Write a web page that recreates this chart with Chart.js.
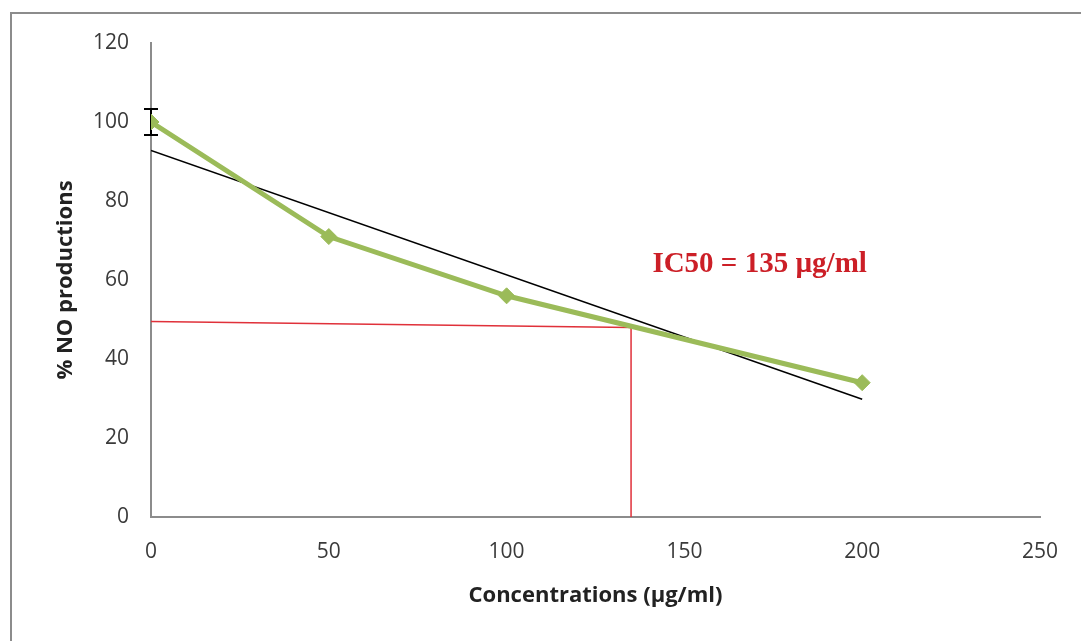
<!DOCTYPE html>
<html>
<head>
<meta charset="utf-8">
<title>NO production</title>
<script src="https://cdn.jsdelivr.net/npm/chart.js@4/dist/chart.umd.min.js"></script>
<style>
  html, body { margin: 0; padding: 0; background: #fff; }
  #wrap { position: relative; width: 1081px; height: 641px; overflow: hidden; }
  #frame { position: absolute; left: 10px; top: 12px; width: 1200px; height: 800px;
           border-left: 2px solid #8c8c8c; border-top: 2px solid #8c8c8c; }
  #myChart { position: absolute; left: 0; top: 0; }
</style>
</head>
<body>
<div id="wrap">
  <div id="frame"></div>
  <canvas id="myChart" width="1081" height="641"></canvas>
</div>
<script>
// Koncentrationer och uppmätt NO-produktion (%)
const concentrations = [0, 50, 100, 200];
const noProduction = [100, 71, 56, 34];
// Felstaplar (+/-) för varje punkt, bara första punkten har en synlig
const errorValues = [3.3, 0, 0, 0];

// IC50 och hjälplinjerna ner till axlarna
const ic50 = 135;
const guideX = [0, ic50, ic50];
const guideY = [49.5, 48, 0];
const ic50Text = 'IC50 = 135 µg/ml';

// Axlarnas steg
const xTicks = [0, 50, 100, 150, 200, 250];
const yTicks = [0, 20, 40, 60, 80, 100, 120];

// Linjär trendlinje (minsta kvadrat) genom mätpunkterna
function linearFit(xs, ys) {
  const n = xs.length;
  const mx = xs.reduce((a, b) => a + b, 0) / n;
  const my = ys.reduce((a, b) => a + b, 0) / n;
  let sxy = 0, sxx = 0;
  for (let i = 0; i < n; i++) {
    sxy += (xs[i] - mx) * (ys[i] - my);
    sxx += (xs[i] - mx) * (xs[i] - mx);
  }
  const k = sxy / sxx;
  return { k: k, m: my - k * mx };
}
const fit = linearFit(concentrations, noProduction);
const trendX = [concentrations[0], concentrations[concentrations.length - 1]];

const green = '#9bbb59';
const red = '#e0313a';
const tickFont = { family: "'Open Sans', sans-serif", size: 21 };
const titleFont = { family: "'Open Sans', sans-serif", size: 22, weight: 'bold' };

// Felstaplar ritas under linjerna, IC50-texten ovanpå
const extras = {
  id: 'extras',
  beforeDatasetsDraw(chart) {
    const { ctx, scales: { x, y } } = chart;
    ctx.save();
    ctx.strokeStyle = '#000';
    ctx.lineWidth = 2;
    concentrations.forEach((c, i) => {
      if (!errorValues[i]) return;
      const px = x.getPixelForValue(c);
      const top = y.getPixelForValue(noProduction[i] + errorValues[i]);
      const bottom = y.getPixelForValue(noProduction[i] - errorValues[i]);
      ctx.beginPath();
      ctx.moveTo(px, top); ctx.lineTo(px, bottom);
      ctx.moveTo(px - 7, top); ctx.lineTo(px + 7, top);
      ctx.moveTo(px - 7, bottom); ctx.lineTo(px + 7, bottom);
      ctx.stroke();
    });
    ctx.restore();
  },
  afterDatasetsDraw(chart) {
    const { ctx, scales: { x, y } } = chart;
    ctx.save();
    ctx.fillStyle = '#cc1f27';
    ctx.font = "bold 29px 'Liberation Serif', 'Times New Roman', serif";
    ctx.textBaseline = 'alphabetic';
    ctx.fillText(ic50Text, x.getPixelForValue(ic50 + 6), y.getPixelForValue(62));
    ctx.restore();
  }
};

const ctx = document.querySelector('#myChart');
new Chart(ctx, {
  type: 'scatter',
  data: {
    datasets: [
      {
        label: 'IC50',
        data: guideX.map((v, i) => ({ x: v, y: guideY[i] })),
        showLine: true,
        borderColor: red,
        borderWidth: 1.5,
        pointRadius: 0,
        order: 3
      },
      {
        label: 'Trend',
        data: trendX.map(v => ({ x: v, y: fit.m + fit.k * v })),
        showLine: true,
        borderColor: '#000',
        borderWidth: 1.5,
        pointRadius: 0,
        order: 2
      },
      {
        label: '% NO',
        data: concentrations.map((c, i) => ({ x: c, y: noProduction[i] })),
        showLine: true,
        borderColor: green,
        borderWidth: 5,
        backgroundColor: green,
        pointStyle: 'rectRot',
        pointRadius: 8,
        pointBorderWidth: 1,
        order: 1
      }
    ]
  },
  options: {
    responsive: false,
    animation: false,
    layout: { padding: { left: 53, right: 41, top: 43, bottom: 32 } },
    plugins: {
      legend: { display: false },
      tooltip: { enabled: false }
    },
    scales: {
      x: {
        type: 'linear',
        min: 0,
        max: 250,
        afterBuildTicks: s => { s.ticks = xTicks.map(v => ({ value: v })); },
        afterFit: s => { s.height = 92; },
        grid: { drawOnChartArea: false, drawTicks: false },
        border: { color: '#8c8c8c', width: 2 },
        ticks: { color: '#3a3a3a', font: tickFont, padding: 22, maxRotation: 0 },
        title: {
          display: true,
          text: 'Concentrations (µg/ml)',
          color: '#222',
          font: titleFont,
          padding: { top: 0, bottom: 0 }
        }
      },
      y: {
        min: 0,
        max: 120,
        afterBuildTicks: s => { s.ticks = yTicks.map(v => ({ value: v })); },
        afterFit: s => { s.width = 98; },
        grid: { drawOnChartArea: false, drawTicks: false },
        border: { color: '#8c8c8c', width: 2 },
        ticks: { color: '#3a3a3a', font: tickFont, padding: 22 },
        title: {
          display: true,
          text: '% NO productions',
          color: '#222',
          font: titleFont,
          padding: { top: 0, bottom: 0 }
        }
      }
    }
  },
  plugins: [extras]
});
</script>
</body>
</html>
